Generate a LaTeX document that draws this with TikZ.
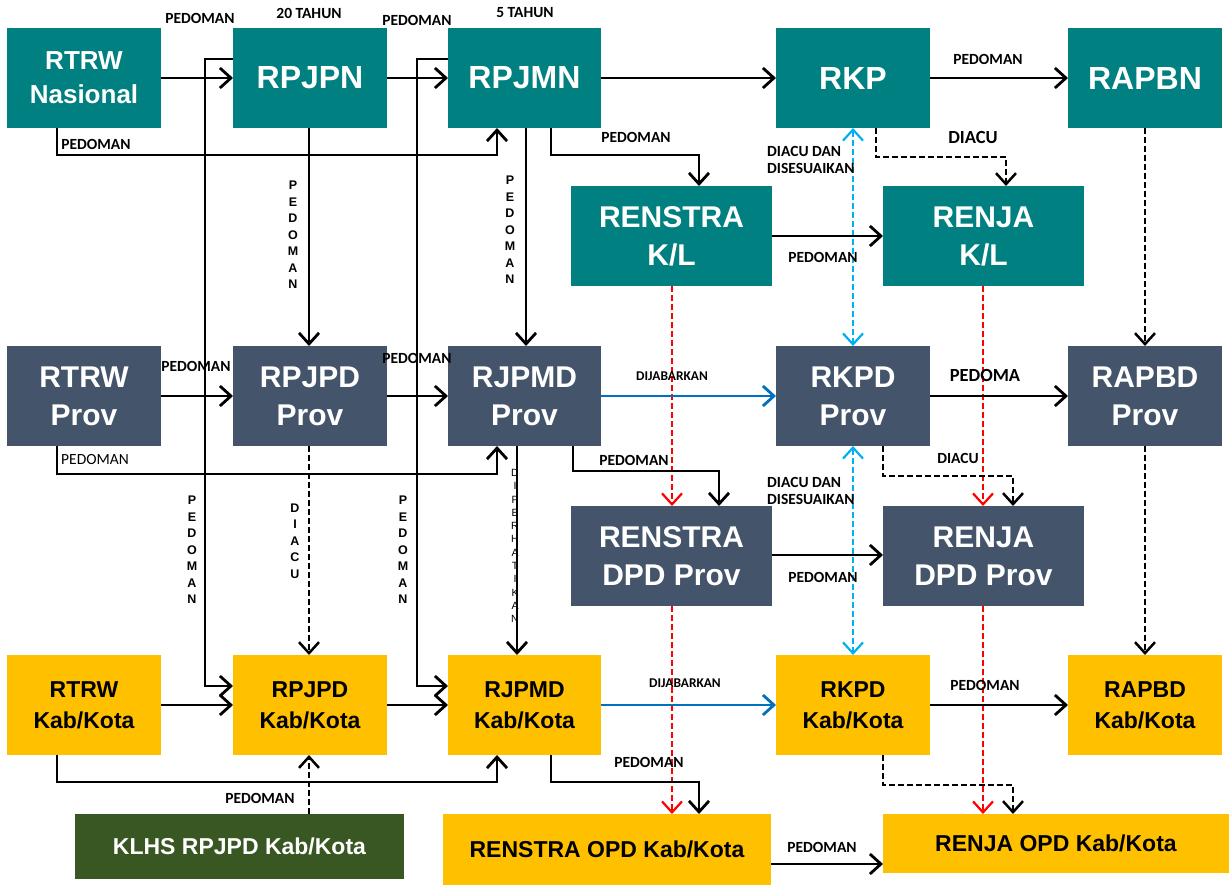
\documentclass[tikz,border=0pt]{standalone}
\usepackage{fontspec}
\setmainfont{Liberation Sans}
\newfontfamily\labfont{Carlito}
\usetikzlibrary{arrows.meta}
\definecolor{tealc}{RGB}{0,128,128}
\definecolor{slatec}{RGB}{68,84,106}
\definecolor{goldc}{RGB}{255,192,0}
\definecolor{dgreenc}{RGB}{56,87,35}
\definecolor{bluec}{RGB}{0,112,192}
\definecolor{cyanc}{RGB}{0,176,240}
\definecolor{redc}{RGB}{255,0,0}
\begin{document}
\begin{tikzpicture}[x=1pt,y=-1pt,
  box/.style={inner sep=0pt,outer sep=0pt,anchor=north west,align=center},
  sz/.style n args={2}{minimum width=#1pt,minimum height=#2pt},
  tealbox/.style={box,fill=tealc,text=white,font=\fontsize{30}{38}\selectfont\bfseries},
  slatebox/.style={box,fill=slatec,text=white,font=\fontsize{30}{38}\selectfont\bfseries},
  goldbox/.style={box,fill=goldc,text=black,font=\fontsize{23}{31}\selectfont\bfseries},
  greenbox/.style={box,fill=dgreenc,text=white,font=\fontsize{23}{31}\selectfont\bfseries},
  lab/.style={inner sep=0pt,font=\labfont\fontsize{15.5}{16}\selectfont\bfseries},
  labr/.style={inner sep=0pt,font=\labfont\fontsize{15.5}{16}\selectfont},
  vlab/.style={inner sep=0pt,align=center,font=\fontsize{12.5}{16.5}\selectfont\bfseries},
  tip/.style={-{Straight Barb[length=11pt,width=20pt]}},
  arr/.style={line width=2.8pt,black,tip},
  darr/.style={line width=2.5pt,black,dash pattern=on 6pt off 3pt,tip},
  barr/.style={line width=2.8pt,bluec,tip},
  rarr/.style={line width=2.2pt,redc,dash pattern=on 6pt off 3pt,tip},
  carr/.style={line width=2.2pt,cyanc,dash pattern=on 6pt off 3pt,
    {Straight Barb[length=11pt,width=20pt]}-{Straight Barb[length=11pt,width=20pt]}}
]
\useasboundingbox[fill=white] (0,0) rectangle (1229,885);

% row 1
\node[tealbox,sz={154}{100},font=\fontsize{26}{34}\selectfont\bfseries] (rtrwn) at (7,28) {RTRW\\Nasional};
\node[tealbox,sz={154}{100},font=\fontsize{32}{38}\selectfont\bfseries] (rpjpn) at (233,28) {RPJPN};
\node[tealbox,sz={153}{100},font=\fontsize{32}{38}\selectfont\bfseries] (rpjmn) at (448,28) {RPJMN};
\node[tealbox,sz={154}{100},font=\fontsize{32}{38}\selectfont\bfseries] (rkp) at (776,28) {RKP};
\node[tealbox,sz={154}{100},font=\fontsize{32}{38}\selectfont\bfseries] (rapbn) at (1068,28) {RAPBN};
% K/L row
\node[tealbox,sz={201}{100}] (renstrakl) at (571,186) {RENSTRA\\K/L};
\node[tealbox,sz={201}{100}] (renjakl) at (883,186) {RENJA\\K/L};
% row 2
\node[slatebox,sz={154}{100}] (rtrwp) at (7,346) {RTRW\\Prov};
\node[slatebox,sz={154}{100}] (rpjpdp) at (233,346) {RPJPD\\Prov};
\node[slatebox,sz={153}{100}] (rjpmdp) at (448,346) {RJPMD\\Prov};
\node[slatebox,sz={154}{100}] (rkpdp) at (776,346) {RKPD\\Prov};
\node[slatebox,sz={154}{100}] (rapbdp) at (1068,346) {RAPBD\\Prov};
% DPD row
\node[slatebox,sz={201}{100}] (renstradpd) at (571,506) {RENSTRA\\DPD Prov};
\node[slatebox,sz={201}{100}] (renjadpd) at (883,506) {RENJA\\DPD Prov};
% row 3
\node[goldbox,sz={154}{100}] (rtrwk) at (7,655) {RTRW\\Kab/Kota};
\node[goldbox,sz={154}{100}] (rpjpdk) at (233,655) {RPJPD\\Kab/Kota};
\node[goldbox,sz={153}{100}] (rjpmdk) at (448,655) {RJPMD\\Kab/Kota};
\node[goldbox,sz={154}{100}] (rkpdk) at (776,655) {RKPD\\Kab/Kota};
\node[goldbox,sz={154}{100}] (rapbdk) at (1068,655) {RAPBD\\Kab/Kota};
% bottom
\node[greenbox,sz={329}{65}] (klhs) at (75,814) {KLHS RPJPD Kab/Kota};
\node[goldbox,sz={328}{71}] (renstraopd) at (443,814) {RENSTRA OPD Kab/Kota};
\node[goldbox,sz={346}{59}] (renjaopd) at (883,814) {RENJA OPD Kab/Kota};

% ---- connectors row 1
\draw[arr] (rtrwn) -- (rpjpn);
\draw[arr] (rpjpn) -- (rpjmn);
\draw[arr] (rpjmn) -- (rkp);
\draw[arr] (rkp) -- (rapbn);
\draw[arr] (rpjpn.west |- 0,59) -| (205,686) -- (rpjpdk.west |- 0,686);
\draw[arr] (rpjmn.west |- 0,59) -| (417,686) -- (rjpmdk.west |- 0,686);
\draw[arr] (rtrwn.south -| 57,0) |- (497,155) -- (rpjmn.south -| 497,0);
\draw[arr] (rpjpn.south -| 309,0) -- (rpjpdp.north -| 309,0);
\draw[arr] (rpjmn.south -| 526,0) -- (rjpmdp.north -| 526,0);
\draw[arr] (rpjmn.south -| 551,0) |- (699,155) -- (renstrakl.north -| 699,0);
\draw[darr] (rkp.south -| 876,0) |- (1006,157) -- (renjakl.north -| 1006,0);
\draw[carr] (rkp.south -| 853,0) -- (rkpdp.north -| 853,0);
\draw[darr] (rapbn.south -| 1145,0) -- (rapbdp.north -| 1145,0);
\draw[arr] (renstrakl.east |- 0,236) -- (renjakl.west |- 0,236);
\draw[rarr] (renstrakl.south -| 672,0) -- (renstradpd.north -| 672,0);
\draw[rarr] (renjakl.south -| 983,0) -- (renjadpd.north -| 983,0);
\draw[rarr] (renstradpd.south -| 672,0) -- (renstraopd.north -| 672,0);
\draw[rarr] (renjadpd.south -| 983,0) -- (renjaopd.north -| 983,0);

% ---- row 2
\draw[arr] (rtrwp) -- (rpjpdp);
\draw[arr] (rpjpdp) -- (rjpmdp);
\draw[barr] (rjpmdp) -- (rkpdp);
\draw[arr] (rkpdp) -- (rapbdp);
\draw[arr] (rtrwp.south -| 57,0) |- (497,474) -- (rjpmdp.south -| 497,0);
\draw[darr] (rpjpdp.south -| 309,0) -- (rpjpdk.north -| 309,0);
\draw[arr] (rjpmdp.south -| 517,0) -- (rjpmdk.north -| 517,0);
\draw[arr] (rjpmdp.south -| 573,0) |- (719,471) -- (renstradpd.north -| 719,0);
\draw[darr] (rkpdp.south -| 883,0) |- (1013,476) -- (renjadpd.north -| 1013,0);
\draw[carr] (rkpdp.south -| 853,0) -- (rkpdk.north -| 853,0);
\draw[darr] (rapbdp.south -| 1145,0) -- (rapbdk.north -| 1145,0);
\draw[arr] (renstradpd.east |- 0,555) -- (renjadpd.west |- 0,555);

% ---- row 3
\draw[arr] (rtrwk) -- (rpjpdk);
\draw[arr] (rpjpdk) -- (rjpmdk);
\draw[barr] (rjpmdk) -- (rkpdk);
\draw[arr] (rkpdk) -- (rapbdk);
\draw[arr] (rtrwk.south -| 57,0) |- (497,782) -- (rjpmdk.south -| 497,0);
\draw[darr] (klhs.north -| 309,0) -- (rpjpdk.south -| 309,0);
\draw[arr] (rjpmdk.south -| 551,0) |- (699,782) -- (renstraopd.north -| 699,0);
\draw[darr] (rkpdk.south -| 883,0) |- (1013,785) -- (renjaopd.north -| 1013,0);
\draw[arr] (renstraopd.east |- 0,864) -- (renjaopd.west |- 0,864);

% ---- labels
\node[lab] (l1) at (200,18) {PEDOMAN};
\node[lab] (l2) at (309,13) {20 TAHUN};
\node[lab] (l3) at (417,20) {PEDOMAN};
\node[lab] (l4) at (525,13) {5 TAHUN};
\node[lab] (l5) at (96,144) {PEDOMAN};
\node[lab] (l6) at (636,137) {PEDOMAN};
\node[lab] (l7) at (988,59) {PEDOMAN};
\node[lab,font=\labfont\fontsize{18.5}{19}\selectfont\bfseries] (l8) at (973,138) {DIACU};
\node[lab,align=left,anchor=west,font=\labfont\fontsize{15.5}{16.5}\selectfont\bfseries] (l9) at (767,160) {DIACU DAN\\DISESUAIKAN};
\node[lab] (l10) at (823,257) {PEDOMAN};
\node[lab,font=\labfont\fontsize{13.4}{14}\selectfont\bfseries] (l11) at (672,376) {DIJABARKAN};
\node[lab,font=\labfont\fontsize{18.5}{19}\selectfont\bfseries] (l12) at (985,375) {PEDOMA};
\node[lab] (l13) at (196,366) {PEDOMAN};
\node[lab] (l14) at (417,358) {PEDOMAN};
\node[labr] (l15) at (95,460) {PEDOMAN};
\node[lab] (l16) at (634,460) {PEDOMAN};
\node[lab,font=\labfont\fontsize{15.5}{16}\selectfont\bfseries] (l17) at (958,458) {DIACU};
\node[lab,align=left,anchor=west,font=\labfont\fontsize{15.5}{16.5}\selectfont\bfseries] (l18) at (767,491) {DIACU DAN\\DISESUAIKAN};
\node[lab] (l19) at (823,577) {PEDOMAN};
\node[lab,font=\labfont\fontsize{13.4}{14}\selectfont\bfseries] (l20) at (685,683) {DIJABARKAN};
\node[lab] (l21) at (985,685) {PEDOMAN};
\node[lab] (l22) at (649,762) {PEDOMAN};
\node[lab] (l23) at (822,847) {PEDOMAN};
\node[lab] (l24) at (260,798) {PEDOMAN};

% vertical labels
\node[vlab] (v1) at (293,235) {P\\E\\D\\O\\M\\A\\N};
\node[vlab] (v2) at (510,230) {P\\E\\D\\O\\M\\A\\N};
\node[vlab] (v3) at (192,550) {P\\E\\D\\O\\M\\A\\N};
\node[vlab] (v4) at (403,550) {P\\E\\D\\O\\M\\A\\N};
\node[vlab] (v5) at (295,541) {D\\I\\A\\C\\U};
\node[vlab,font=\fontsize{10.5}{13.3}\selectfont] (v6) at (515,546) {D\\I\\P\\E\\R\\H\\A\\T\\I\\K\\A\\N};
\end{tikzpicture}
\end{document}
